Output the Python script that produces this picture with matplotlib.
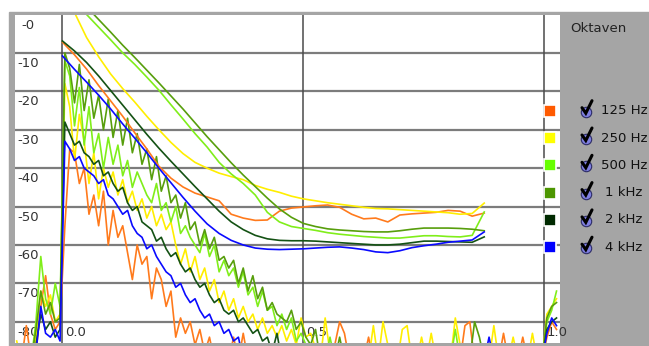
import numpy as np
import matplotlib
matplotlib.use("Agg")
import matplotlib.pyplot as plt
from matplotlib.lines import Line2D
from matplotlib.patches import Rectangle

# time axis of the impulse responses and of the decay curves (s)
t_ir = np.round(np.arange(-0.095, 1.03, 0.01), 3)
t_decay = np.round(np.arange(0.0, 0.876, 0.025), 3)

bands = ["125 Hz", "250 Hz", "500 Hz", "1 kHz", "2 kHz", "4 kHz"]
line_colors = ["#ff7a1c", "#ffee00", "#80ee1a", "#579e0c", "#145214", "#0a0aff"]
box_colors = ["#ff5a00", "#ffff00", "#66ff00", "#4c9600", "#002a00", "#0000ff"]

y_ticks = [0, -10, -20, -30, -40, -50, -60, -70, -80]
y_tick_labels = ["-0", "-10", "-20", "-30", "-40", "-50", "-60", "-70", "-80"]
x_ticks = [0.0, 0.5, 1.0]
x_tick_labels = ["0.0", "0.5", "1.0"]

# impulse response levels (dB), one value per t_ir step
ir_125 = [
    -90, -90, -81, -90, -88, -76, -68, -78, -82, -80,
    -55, -35, -36, -44, -40, -52, -47, -55, -46, -60,
    -51, -58, -55, -62, -69, -60, -65, -63, -74, -66,
    -69, -76, -72, -84, -79, -83, -80, -86, -82, -88,
    -84, -90, -90, -87, -90, -84, -90, -83, -90, -90,
    -90, -86, -90, -90, -88, -90, -90, -90, -90, -90, -90,
    -90, -90, -90, -90, -90, -86, -80, -83, -90, -90,
    -90, -90, -84, -90, -90, -90, -90, -90, -90, -90,
    -90, -90, -90, -90, -90, -90, -90, -90, -90, -90,
    -90, -90, -81, -80, -90, -90, -90, -90, -90, -90,
    -83, -90, -90, -90, -84, -90, -90, -90, -90, -84, -80, -82,
]
ir_250 = [
    -85, -90, -90, -90, -84, -72, -76, -73, -80, -78,
    -18, -24, -38, -26, -33, -44, -36, -48, -40, -45,
    -41, -47, -43, -49, -46, -51, -48, -53, -50, -55,
    -52, -56, -54, -60, -65, -61, -67, -63, -69, -66,
    -72, -69, -75, -72, -77, -74, -79, -76, -80, -78,
    -82, -79, -83, -81, -84, -81, -85, -82, -86, -79, -84,
    -83, -87, -90, -79, -88, -90, -90, -90, -90, -90,
    -90, -90, -90, -81, -90, -80, -86, -90, -90, -82,
    -81, -90, -90, -84, -90, -83, -90, -90, -90, -90,
    -79, -86, -90, -90, -90, -90, -90, -90, -81, -90,
    -90, -90, -84, -90, -90, -90, -83, -90, -90, -78, -76, -74,
]
ir_500 = [
    -90, -90, -90, -90, -80, -63, -74, -78, -70, -76,
    -12, -16, -29, -19, -34, -24, -36, -31, -40, -32,
    -39, -34, -42, -38, -45, -41, -44, -47, -49, -44,
    -51, -49, -54, -50, -57, -55, -58, -60, -62, -57,
    -63, -60, -67, -64, -68, -66, -71, -67, -73, -71,
    -76, -72, -77, -76, -81, -78, -82, -79, -85, -83, -86,
    -88, -90, -90, -90, -84, -90, -90, -90, -90, -90,
    -86, -90, -90, -90, -90, -90, -90, -90, -90, -90,
    -90, -90, -90, -90, -90, -90, -90, -90, -90, -90,
    -82, -90, -90, -90, -90, -90, -90, -90, -90, -90,
    -90, -90, -90, -90, -90, -90, -90, -90, -90, -80, -77, -72,
]
ir_1k = [
    -90, -90, -90, -90, -82, -72, -78, -75, -80, -79,
    -10, -14, -23, -13, -25, -17, -27, -21, -30, -22,
    -32, -25, -34, -27, -36, -31, -39, -35, -43, -37,
    -46, -42, -49, -47, -53, -49, -56, -54, -60, -56,
    -61, -58, -64, -63, -66, -64, -70, -66, -72, -68,
    -74, -71, -77, -75, -78, -79, -80, -77, -82, -80, -84,
    -86, -82, -90, -90, -90, -90, -84, -90, -90, -90,
    -90, -90, -90, -90, -90, -90, -90, -90, -90, -90,
    -90, -90, -90, -90, -90, -90, -90, -90, -90, -90,
    -90, -90, -90, -90, -80, -84, -90, -90, -90, -90,
    -90, -90, -90, -90, -90, -90, -90, -90, -90, -79, -76, -75,
]
ir_2k = [
    -90, -90, -90, -90, -86, -78, -82, -80, -84, -82,
    -28, -31, -34, -33, -36, -37, -39, -38, -42, -41,
    -44, -46, -45, -49, -51, -50, -54, -55, -56, -59,
    -58, -61, -63, -62, -65, -67, -66, -69, -71, -70,
    -73, -75, -74, -77, -78, -77, -80, -79, -81, -83,
    -82, -85, -84, -88, -83, -90, -86, -90, -90, -90, -90,
    -90, -90, -90, -90, -90, -90, -90, -90, -90, -86,
    -90, -90, -90, -90, -90, -90, -90, -90, -90, -90,
    -90, -90, -90, -90, -90, -90, -90, -90, -90, -90,
    -90, -90, -90, -90, -90, -90, -90, -90, -90, -90,
    -90, -90, -90, -90, -90, -90, -90, -90, -90, -82, -80, -79,
]
ir_4k = [
    -90, -90, -90, -90, -88, -76, -83, -84, -82, -85,
    -33, -35, -38, -37, -40, -41, -42, -44, -43, -47,
    -48, -50, -52, -51, -55, -57, -58, -61, -60, -63,
    -65, -67, -68, -71, -70, -73, -75, -74, -77, -79,
    -78, -81, -80, -83, -82, -85, -84, -90, -87, -90,
    -90, -90, -90, -90, -90, -90, -90, -90, -90, -90, -90,
    -90, -90, -90, -90, -90, -90, -90, -90, -90, -90,
    -90, -90, -90, -90, -90, -90, -90, -90, -90, -90,
    -90, -90, -90, -90, -90, -90, -90, -90, -90, -90,
    -90, -90, -90, -90, -90, -90, -90, -84, -90, -90,
    -90, -90, -90, -90, -90, -90, -90, -90, -90, -83, -79, -81,
]

# integrated decay curves (dB), one value per t_decay step
dec_125 = [-7.2, -10.5, -14.2, -18.5, -22.5, -26.5, -30.8, -35.0, -39.5, -42.6,
           -44.9, -46.5, -47.5, -48.5, -52.0, -53.0, -53.6, -53.5, -51.2, -50.4,
           -50.1, -49.8, -49.6, -50.2, -52.0, -53.2, -53.0, -54.0, -52.2, -51.9,
           -51.7, -51.5, -51.0, -51.2, -52.5, -51.7]
dec_250 = [5.0, 0.5, -6.0, -11.0, -15.5, -19.3, -22.8, -26.5, -30.0, -33.3,
           -36.2, -38.5, -40.0, -41.3, -42.2, -43.0, -44.5, -45.5, -46.3, -47.3,
           -48.0, -48.5, -49.0, -49.4, -49.8, -50.2, -50.5, -50.6, -50.8, -51.0,
           -51.2, -51.4, -51.6, -52.0, -51.8, -49.1]
dec_500 = [7.0, 3.5, 0.0, -3.3, -6.6, -10.0, -13.0, -16.3, -19.7, -23.5,
           -27.2, -31.0, -34.5, -38.5, -41.5, -44.0, -47.0, -51.5, -54.0, -55.2,
           -55.7, -56.2, -56.8, -57.2, -57.5, -57.8, -58.0, -58.2, -58.2, -57.9,
           -57.6, -57.6, -57.8, -57.9, -57.5, -51.4]
dec_1k = [9.0, 5.5, 2.0, -1.3, -4.6, -8.0, -11.2, -14.5, -17.8, -21.2,
          -24.6, -28.2, -31.8, -35.2, -38.6, -41.8, -44.8, -47.8, -50.6, -52.8,
          -54.4, -55.2, -55.8, -56.1, -56.3, -56.5, -56.6, -56.6, -56.3, -55.9,
          -55.6, -55.6, -55.6, -55.7, -55.9, -56.3]
dec_2k = [-6.9, -9.5, -12.5, -16.0, -19.8, -23.6, -27.4, -31.2, -34.8, -38.2,
          -41.5, -44.8, -48.0, -51.2, -54.0, -56.0, -57.5, -58.4, -58.8, -58.9,
          -58.9, -59.0, -59.2, -59.4, -59.6, -59.8, -60.0, -60.0, -59.8, -59.4,
          -59.0, -59.0, -59.1, -59.2, -59.3, -57.9]
dec_4k = [-10.8, -14.3, -17.6, -21.0, -24.6, -28.5, -32.2, -36.0, -40.0, -43.8,
          -47.6, -51.2, -54.5, -57.0, -58.8, -60.0, -60.8, -61.1, -61.2, -61.1,
          -61.0, -60.8, -60.6, -60.5, -60.8, -61.2, -61.8, -62.0, -61.5, -60.7,
          -60.2, -59.8, -59.3, -59.0, -58.7, -56.6]

ir_all = [ir_125, ir_250, ir_500, ir_1k, ir_2k, ir_4k]
dec_all = [dec_125, dec_250, dec_500, dec_1k, dec_2k, dec_4k]

W, H = 649.0, 346.0


def px(x, y):
    # pixel position -> figure fraction
    return x / W, 1 - y / H


fig = plt.figure(figsize=(W / 100, H / 100), dpi=100)
fig.patch.set_facecolor("white")
fig.add_artist(Rectangle((9 / W, 0), 1 - 9 / W, 1 - 12 / H,
                         transform=fig.transFigure, color="#a5a5a5", zorder=-1))

ax = fig.add_axes([15 / W, 1 - 343.3 / H, 545 / W, 328.8 / H])
ax.set_facecolor("white")
ax.set_xlim(-0.0985, 1.0322)
ax.set_ylim(-85.6, 0)
ax.set_xticks([])
ax.set_yticks([])
for sp in ax.spines.values():
    sp.set_visible(False)

for y in y_ticks[1:]:
    ax.axhline(y, color="#7c7c7c", lw=1.6, zorder=1)
for x in x_ticks:
    ax.axvline(x, color="#4a4a4a", lw=1.1, zorder=1)

for y, lab in zip(y_ticks, y_tick_labels):
    ax.text(-0.0716, y - 2.75, lab, ha="center", va="center",
            fontsize=9.5, color="#333333", zorder=2)
for x, lab in zip(x_ticks, x_tick_labels):
    ax.text(x + 0.005, -82.7, lab, ha="left", va="center",
            fontsize=9.5, color="#333333", zorder=2)

for vals, col in zip(ir_all, line_colors):
    ax.plot(t_ir, vals, color=col, lw=1.2, zorder=3)
for vals, col in zip(dec_all, line_colors):
    ax.plot(t_decay, vals, color=col, lw=1.2, zorder=4)

# legend on the right
fig.text(*px(570, 29), "Oktaven", ha="left", va="center",
         fontsize=9.5, color="#222222")
for i, (band, col) in enumerate(zip(bands, box_colors)):
    yc = 110.7 + 27.3 * i
    fig.add_artist(Line2D(*zip(px(550, yc)), marker="s", ms=8.6, mfc=col,
                          mec="white", mew=1.2, transform=fig.transFigure, zorder=5))
    fig.add_artist(Line2D(*zip(px(586, yc + 1)), marker="o", ms=7.5, mfc="#7f7fe0",
                          mec="#2c2c66", mew=0.8, transform=fig.transFigure, zorder=5))
    chk = [px(582, yc - 3), px(585.8, yc + 2.5), px(592, yc - 10)]
    fig.add_artist(Line2D([p[0] for p in chk], [p[1] for p in chk], color="black",
                          lw=2.2, solid_joinstyle="miter", solid_capstyle="round",
                          transform=fig.transFigure, zorder=6))
    fig.text(*px(624, yc), band, ha="center", va="center",
             fontsize=9.5, color="#111111")

fig.savefig("out.png", dpi=100, facecolor=fig.get_facecolor())
